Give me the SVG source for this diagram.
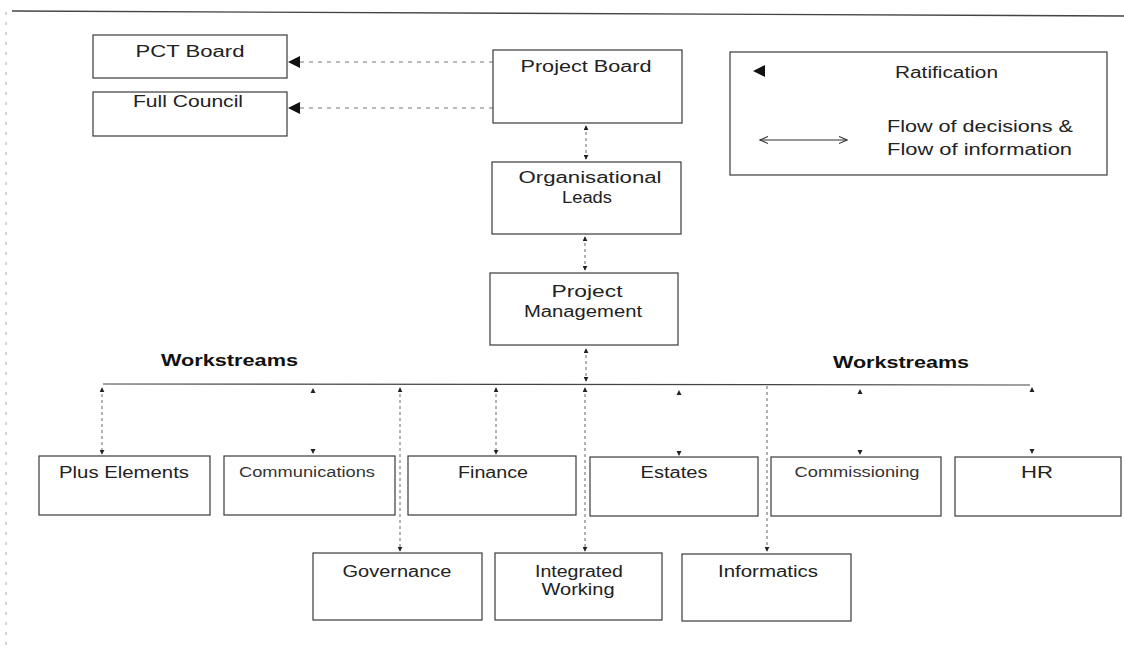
<svg xmlns="http://www.w3.org/2000/svg" width="1124" height="654" viewBox="0 0 1124 654">
  <defs>
    <style>
      .box { fill: #ffffff; stroke: #3a3a3a; stroke-width: 1.2; }
      .t { font-family: "Liberation Sans", Arial, sans-serif; font-size: 16px; fill: #222222; }
      .ts { font-family: "Liberation Sans", Arial, sans-serif; font-size: 14px; fill: #333333; }
      .tb { font-family: "Liberation Sans", Arial, sans-serif; font-size: 16px; font-weight: bold; fill: #111111; }
      .dot { fill: none; stroke: #666666; stroke-width: 1; stroke-dasharray: 3 3; }
      .rat { fill: none; stroke: #777777; stroke-width: 1; stroke-dasharray: 4 5; }
      .bar { fill: none; stroke: #444444; stroke-width: 1.2; }
      .frame { fill: none; stroke: #444444; stroke-width: 1.4; }
      .edge { fill: none; stroke: #aaaaaa; stroke-width: 1; stroke-dasharray: 3 7; }
    </style>
    <marker id="tip" viewBox="0 0 6 6" refX="5" refY="3" markerWidth="5" markerHeight="5" orient="auto-start-reverse" markerUnits="userSpaceOnUse">
      <path d="M0,0 L6,3 L0,6 Z" fill="#222222"/>
    </marker>
    <marker id="open" viewBox="0 0 10 10" refX="9" refY="5" markerWidth="9" markerHeight="9" orient="auto-start-reverse" markerUnits="userSpaceOnUse">
      <path d="M0,1 L9,5 L0,9" fill="none" stroke="#333333" stroke-width="1.2"/>
    </marker>
    <!-- tiny arrowheads left where a drop line has faded out -->
    <path id="tip-up" d="M-2.5,0 L2.5,0 L0,-5 Z" fill="#222222"/>
    <path id="tip-down" d="M-2.5,0 L2.5,0 L0,5 Z" fill="#222222"/>
  </defs>

  <rect width="1124" height="654" fill="#ffffff"/>

  <!-- page edge -->
  <g id="page-edge">
    <path class="frame" d="M12,11 L1124,16"/>
    <path class="edge" d="M6,12 L6,652"/>
  </g>

  <!-- connectors -->
  <g id="connectors">
    <!-- ratification arrows -->
    <path class="rat" d="M493,62 H300"/>
    <path d="M288,62 L300,56 L300,68 Z" fill="#111111"/>
    <path class="rat" d="M493,108 H300"/>
    <path d="M288,108 L300,102 L300,114 Z" fill="#111111"/>

    <!-- vertical spine -->
    <path class="dot" d="M586,126 V159" marker-start="url(#tip)" marker-end="url(#tip)"/>
    <path class="dot" d="M585,237 V270" marker-start="url(#tip)" marker-end="url(#tip)"/>
    <path class="dot" d="M586,349 V381" marker-start="url(#tip)" marker-end="url(#tip)"/>

    <!-- workstream bar -->
    <path class="bar" d="M103,384 L1030,385"/>

    <!-- drops to workstreams -->
    <path class="dot" d="M102,388 V454" marker-start="url(#tip)" marker-end="url(#tip)"/>
    <path class="dot" d="M400,388 V551" marker-start="url(#tip)" marker-end="url(#tip)"/>
    <path class="dot" d="M496,388 V454" marker-start="url(#tip)" marker-end="url(#tip)"/>
    <path class="dot" d="M585,388 V551" marker-start="url(#tip)" marker-end="url(#tip)"/>
    <path class="dot" d="M767,386 V551" marker-end="url(#tip)"/>

    <!-- stub arrowheads -->
    <use href="#tip-up" x="313" y="393"/>
    <use href="#tip-down" x="313" y="449"/>
    <use href="#tip-up" x="679" y="395"/>
    <use href="#tip-down" x="679" y="451"/>
    <use href="#tip-up" x="860" y="394"/>
    <use href="#tip-down" x="860" y="450"/>
    <use href="#tip-up" x="1032" y="392"/>
    <use href="#tip-down" x="1032" y="449"/>
  </g>

  <!-- governance bodies -->
  <g id="pct-board">
    <rect class="box" x="93" y="35" width="194" height="43"/>
    <text class="t" x="190" y="57" text-anchor="middle" textLength="109" lengthAdjust="spacingAndGlyphs">PCT Board</text>
  </g>
  <g id="full-council">
    <rect class="box" x="93" y="92" width="194" height="44"/>
    <text class="t" x="188" y="107" text-anchor="middle" textLength="110" lengthAdjust="spacingAndGlyphs">Full Council</text>
  </g>
  <g id="project-board">
    <rect class="box" x="493" y="50" width="189" height="73"/>
    <text class="t" x="586" y="72" text-anchor="middle" textLength="131" lengthAdjust="spacingAndGlyphs">Project Board</text>
  </g>
  <g id="organisational-leads">
    <rect class="box" x="492" y="162" width="189" height="72"/>
    <text class="t" x="590" y="183" text-anchor="middle" textLength="143" lengthAdjust="spacingAndGlyphs">Organisational</text>
    <text class="t" x="587" y="203" text-anchor="middle" textLength="50" lengthAdjust="spacingAndGlyphs">Leads</text>
  </g>
  <g id="project-management">
    <rect class="box" x="490" y="273" width="188" height="72"/>
    <text class="t" x="587" y="297" text-anchor="middle" textLength="71" lengthAdjust="spacingAndGlyphs">Project</text>
    <text class="t" x="583" y="317" text-anchor="middle" textLength="118" lengthAdjust="spacingAndGlyphs">Management</text>
  </g>

  <!-- key -->
  <g id="legend">
    <rect class="box" x="730" y="52" width="377" height="123"/>
    <path d="M753,71 L765,65 L765,77 Z" fill="#111111"/>
    <text class="t" x="895" y="78" textLength="103" lengthAdjust="spacingAndGlyphs">Ratification</text>
    <path d="M760,140 H847" fill="none" stroke="#333333" stroke-width="1.2" marker-start="url(#open)" marker-end="url(#open)"/>
    <text class="t" x="887" y="132" textLength="186" lengthAdjust="spacingAndGlyphs">Flow of decisions &amp;</text>
    <text class="t" x="887" y="155" textLength="185" lengthAdjust="spacingAndGlyphs">Flow of information</text>
  </g>

  <!-- section headings -->
  <g id="workstreams-left">
    <text class="tb" x="161" y="366" textLength="137" lengthAdjust="spacingAndGlyphs">Workstreams</text>
  </g>
  <g id="workstreams-right">
    <text class="tb" x="833" y="368" textLength="136" lengthAdjust="spacingAndGlyphs">Workstreams</text>
  </g>

  <!-- workstreams, first row -->
  <g id="plus-elements">
    <rect class="box" x="39" y="456" width="171" height="59"/>
    <text class="t" x="124" y="478" text-anchor="middle" textLength="130" lengthAdjust="spacingAndGlyphs">Plus Elements</text>
  </g>
  <g id="communications">
    <rect class="box" x="224" y="456" width="171" height="59"/>
    <text class="ts" x="307" y="477" text-anchor="middle" textLength="136" lengthAdjust="spacingAndGlyphs">Communications</text>
  </g>
  <g id="finance">
    <rect class="box" x="408" y="456" width="168" height="59"/>
    <text class="t" x="493" y="478" text-anchor="middle" textLength="70" lengthAdjust="spacingAndGlyphs">Finance</text>
  </g>
  <g id="estates">
    <rect class="box" x="590" y="457" width="168" height="59"/>
    <text class="t" x="674" y="478" text-anchor="middle" textLength="67" lengthAdjust="spacingAndGlyphs">Estates</text>
  </g>
  <g id="commissioning">
    <rect class="box" x="771" y="457" width="170" height="59"/>
    <text class="ts" x="857" y="477" text-anchor="middle" textLength="125" lengthAdjust="spacingAndGlyphs">Commissioning</text>
  </g>
  <g id="hr">
    <rect class="box" x="955" y="457" width="166" height="59"/>
    <text class="t" x="1037" y="478" text-anchor="middle" textLength="32" lengthAdjust="spacingAndGlyphs">HR</text>
  </g>

  <!-- workstreams, second row -->
  <g id="governance">
    <rect class="box" x="313" y="553" width="169" height="67"/>
    <text class="t" x="397" y="577" text-anchor="middle" textLength="109" lengthAdjust="spacingAndGlyphs">Governance</text>
  </g>
  <g id="integrated-working">
    <rect class="box" x="495" y="553" width="167" height="67"/>
    <text class="t" x="579" y="577" text-anchor="middle" textLength="88" lengthAdjust="spacingAndGlyphs">Integrated</text>
    <text class="t" x="578" y="595" text-anchor="middle" textLength="73" lengthAdjust="spacingAndGlyphs">Working</text>
  </g>
  <g id="informatics">
    <rect class="box" x="682" y="554" width="169" height="67"/>
    <text class="t" x="768" y="577" text-anchor="middle" textLength="100" lengthAdjust="spacingAndGlyphs">Informatics</text>
  </g>
</svg>
